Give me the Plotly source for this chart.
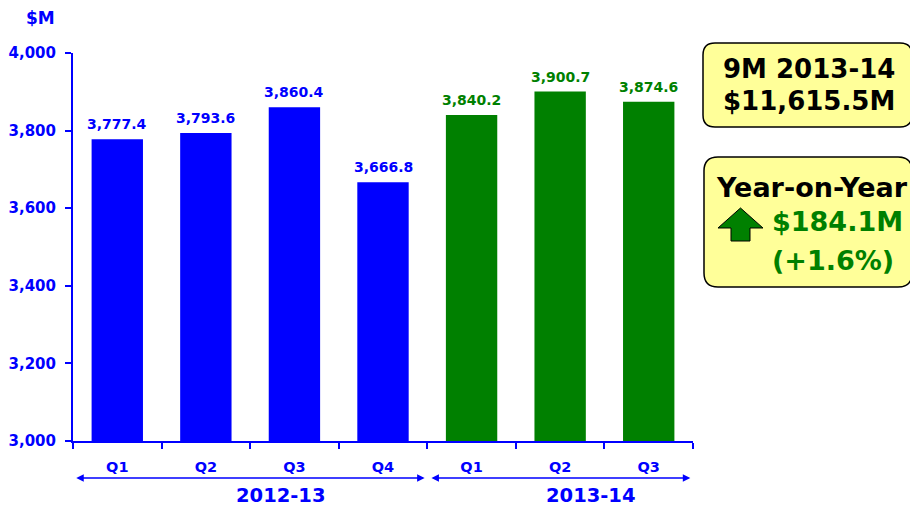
import plotly.graph_objects as go

quarters = ["Q1", "Q2", "Q3", "Q4", "Q1", "Q2", "Q3"]
years = ["2012-13", "2012-13", "2012-13", "2012-13", "2013-14", "2013-14", "2013-14"]
values = [3777.4, 3793.6, 3860.4, 3666.8, 3840.2, 3900.7, 3874.6]
year_labels = ["2012-13", "2013-14"]
box1_lines = ["9M 2013-14", "$11,615.5M"]
box2_title = "Year-on-Year"
box2_lines = ["$184.1M", "(+1.6%)"]

BLUE = "#0000FF"
GREEN = "#008000"
FONT = "DejaVu Sans"

W, H = 910, 506
L, R, T, B = 73, 217, 53, 65
PW, PH = W - L - R, H - T - B


def px(x):
    return (x - L) / PW


def py(y):
    return (H - B - y) / PH


colors = [BLUE if y == year_labels[0] else GREEN for y in years]
xs = list(range(len(values)))

fig = go.Figure()
fig.add_trace(go.Bar(
    x=xs, y=values, marker=dict(color=colors, line=dict(width=0)),
    hoverinfo="skip",
))


def rounded(x0, y0, x1, y1, r):
    def P(x, y):
        return f"{px(x):.5f},{py(y):.5f}"
    return (f"M {P(x0 + r, y0)} L {P(x1 - r, y0)} Q {P(x1, y0)} {P(x1, y0 + r)} "
            f"L {P(x1, y1 - r)} Q {P(x1, y1)} {P(x1 - r, y1)} L {P(x0 + r, y1)} "
            f"Q {P(x0, y1)} {P(x0, y1 - r)} L {P(x0, y0 + r)} Q {P(x0, y0)} {P(x0 + r, y0)} Z")


shapes = [
    dict(type="path", xref="paper", yref="paper", path=rounded(703, 43, 912, 127, 12),
         fillcolor="#FFFF99", line=dict(color="black", width=1.5), layer="above"),
    dict(type="path", xref="paper", yref="paper", path=rounded(704, 157, 912, 287, 14),
         fillcolor="#FFFF99", line=dict(color="black", width=1.5), layer="above"),
]
# up arrow
arrow_pts = [(740.5, 208), (763, 228), (750, 228), (750, 241), (731, 241), (731, 228), (718, 228)]
path = "M " + " L ".join(f"{px(x):.5f},{py(y):.5f}" for x, y in arrow_pts) + " Z"
shapes.append(dict(type="path", xref="paper", yref="paper", path=path,
                   fillcolor=GREEN, line=dict(color="black", width=1), layer="above"))

annotations = [
    dict(text="<b>$M</b>", x=px(24), y=py(18), xref="paper", yref="paper",
         xanchor="left", yanchor="middle", showarrow=False,
         font=dict(family=FONT, size=17, color=BLUE)),
]
# value labels above bars
for xi, v, c in zip(xs, values, colors):
    annotations.append(dict(text=f"<b>{v:,.1f}</b>", x=xi, y=v, xref="x", yref="y",
                            showarrow=False, xanchor="center", yanchor="bottom", yshift=5,
                            font=dict(family=FONT, size=14, color=c)))
# year ranges with double-headed arrows
for x0, x1 in [(-0.48, 3.47), (3.53, 6.47)]:
    annotations.append(dict(text="", x=x1, y=py(478), xref="x", yref="paper",
                            ax=x0, ay=0, axref="x", ayref="pixel",
                            showarrow=True, arrowhead=2, arrowside="end+start",
                            arrowsize=1, arrowwidth=1.5, arrowcolor=BLUE, standoff=0,
                            startstandoff=0))
for i, yl in enumerate(year_labels):
    idx = [k for k, y in enumerate(years) if y == yl]
    cx = (idx[0] + idx[-1]) / 2 + 0.35
    annotations.append(dict(text=f"<b>{yl}</b>", x=cx, y=py(495), xref="x", yref="paper",
                            showarrow=False, yanchor="middle", xanchor="center",
                            font=dict(family=FONT, size=19.5, color=BLUE)))

annotations.append(dict(text=f"<b>{box1_lines[0]}</b>", x=px(809), y=py(69), xref="paper",
                        yref="paper", showarrow=False, yanchor="middle", xanchor="center",
                        font=dict(family=FONT, size=26, color="black")))
annotations.append(dict(text=f"<b>{box1_lines[1]}</b>", x=px(809), y=py(101), xref="paper",
                        yref="paper", showarrow=False, yanchor="middle", xanchor="center",
                        font=dict(family=FONT, size=26, color="black")))
annotations.append(dict(text=f"<b>{box2_title}</b>", x=px(714), y=py(187), xref="paper",
                        yref="paper", showarrow=False, yanchor="middle", xanchor="left",
                        font=dict(family=FONT, size=27, color="black")))
annotations.append(dict(text=f"<b>{box2_lines[0]}</b>", x=px(770), y=py(221), xref="paper",
                        yref="paper", showarrow=False, yanchor="middle", xanchor="left",
                        font=dict(family=FONT, size=27, color=GREEN)))
annotations.append(dict(text=f"<b>{box2_lines[1]}</b>", x=px(833), y=py(260), xref="paper",
                        yref="paper", showarrow=False, yanchor="middle", xanchor="center",
                        font=dict(family=FONT, size=27, color=GREEN)))

ytick_vals = [3000, 3200, 3400, 3600, 3800, 4000]

fig.update_layout(
    width=W, height=H, margin=dict(l=L, r=R, t=T, b=B, autoexpand=False),
    paper_bgcolor="white", plot_bgcolor="white", showlegend=False,
    bargap=0.42, shapes=shapes, annotations=annotations,
    font=dict(family=FONT),
    xaxis=dict(
        range=[-0.5, len(values) - 0.5], tickvals=xs, automargin=False,
        ticktext=[f"<b>{q}</b>" for q in quarters],
        tickfont=dict(family=FONT, size=14.5, color=BLUE),
        ticks="", showgrid=False, zeroline=False,
        showline=True, linecolor=BLUE, linewidth=2,
        ticklabelstandoff=12,
        minor=dict(tickvals=[i - 0.5 for i in range(len(values) + 1)], ticks="outside",
                   ticklen=6, tickcolor=BLUE, tickwidth=1.5, showgrid=False),
    ),
    yaxis=dict(
        range=[3000, 4000], tickvals=ytick_vals, automargin=False,
        ticktext=[f"<b>{v:,}</b>" for v in ytick_vals],
        tickfont=dict(family=FONT, size=15, color=BLUE),
        ticks="outside", ticklen=6, tickcolor=BLUE, tickwidth=1.5,
        showgrid=False, zeroline=False, showline=True, linecolor=BLUE, linewidth=2,
        ticklabelstandoff=6,
    ),
)

fig.write_html("out.html", config={"displayModeBar": False},
               post_script="document.body.style.margin='0';document.body.style.padding='0';")
